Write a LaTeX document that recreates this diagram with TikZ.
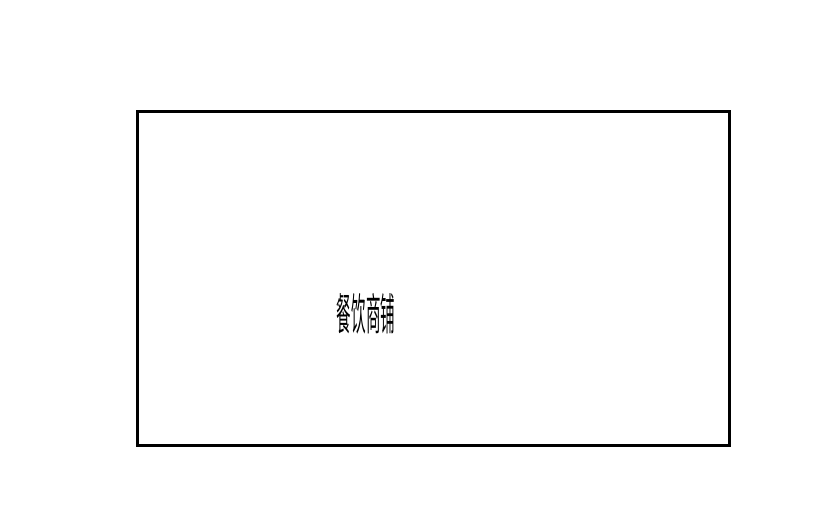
\documentclass[tikz,border=0pt]{standalone}
\usepackage{fontspec}
\newfontfamily\cjk{Noto Sans CJK SC}
\begin{document}
\begin{tikzpicture}[x=1pt,y=-1pt]
\useasboundingbox (0,0) rectangle (814,519);
\draw[line width=3pt] (137,111) rectangle (729,445);

\node[font=\cjk\fontsize{44}{44}\selectfont, xscale=0.33, transform shape, inner sep=0pt] (shop) at (366,314) {餐饮商铺};
\end{tikzpicture}
\end{document}
